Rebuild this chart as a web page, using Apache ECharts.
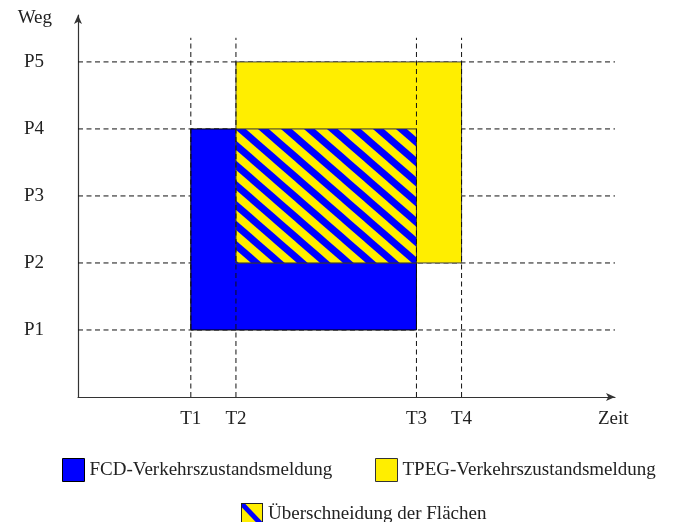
<!DOCTYPE html>
<html>
<head>
<meta charset="utf-8">
<script src="https://cdn.jsdelivr.net/npm/echarts@6/dist/echarts.min.js"></script>
<style>
  html, body { margin: 0; padding: 0; background: #fff; }
  #main { width: 679px; height: 522px; }
</style>
</head>
<body>
<div id="main"></div>
<script>
// Zeitpunkte (x) und Wegpunkte (y)
var tLabels = ['T1', 'T2', 'T3', 'T4'];
var tValues = [2.5, 3.5, 7.5, 8.5];
var pLabels = ['P1', 'P2', 'P3', 'P4', 'P5'];
var pValues = [1, 2, 3, 4, 5];

// Flaechen: [t von, t bis, p von, p bis]
var fcdArea = [2.5, 7.5, 1, 4];
var tpegArea = [3.5, 8.5, 2, 5];
var overlapArea = [3.5, 7.5, 2, 4];

var names = ['FCD-Verkehrszustandsmeldung', 'TPEG-Verkehrszustandsmeldung', 'Überschneidung der Flächen'];

var blue = '#0000ff';
var yellow = '#ffee00';
var font = 'Liberation Serif';
var textColor = '#222';
var xMax = 11.9;
var yMax = 5.7;
var vLineTop = 5.36;

// Schraffur: blaue Diagonalen auf Gelb
function hatchPattern() {
  var w = 23, h = 20;
  var c = document.createElement('canvas');
  c.width = w; c.height = h;
  var ctx = c.getContext('2d');
  ctx.fillStyle = yellow;
  ctx.fillRect(0, 0, w, h);
  ctx.strokeStyle = blue;
  ctx.lineWidth = 7;
  [-w, 0, w].forEach(function (o) {
    ctx.beginPath();
    ctx.moveTo(o - w, -h);
    ctx.lineTo(o + 2 * w, 2 * h);
    ctx.stroke();
  });
  return c;
}

function hatchIcon() {
  var c = document.createElement('canvas');
  c.width = 22; c.height = 23;
  var ctx = c.getContext('2d');
  ctx.fillStyle = yellow;
  ctx.fillRect(0, 0, 22, 23);
  ctx.strokeStyle = blue;
  ctx.lineWidth = 5;
  ctx.beginPath();
  ctx.moveTo(0, 0);
  ctx.lineTo(22, 23);
  ctx.stroke();
  ctx.strokeStyle = '#222';
  ctx.lineWidth = 1;
  ctx.strokeRect(0.5, 0.5, 21, 22);
  return 'image://' + c.toDataURL();
}

function rectItem(fill, stroke) {
  return function (params, api) {
    var a = api.coord([api.value(0), api.value(3)]);
    var b = api.coord([api.value(1), api.value(2)]);
    return {
      type: 'rect',
      shape: { x: a[0], y: a[1], width: b[0] - a[0], height: b[1] - a[1] },
      style: { fill: fill, stroke: stroke, lineWidth: 1 }
    };
  };
}

var dash = { stroke: '#111', lineWidth: 1, lineDash: [5, 3.5] };

var myChart = echarts.init(document.getElementById('main'));

var legendText = { fontFamily: font, fontSize: 19, color: textColor };

var option = {
  animation: false,
  grid: { left: 78, right: 64, top: 15, bottom: 125 },
  legend: [
    {
      data: [{ name: names[0], icon: 'rect', itemStyle: { color: blue, borderColor: '#000', borderWidth: 1 } }],
      left: 57, top: 453, itemWidth: 22, itemHeight: 23, selectedMode: false, textStyle: legendText
    },
    {
      data: [{ name: names[1], icon: 'rect', itemStyle: { color: yellow, borderColor: '#333', borderWidth: 1 } }],
      left: 370, top: 453, itemWidth: 22, itemHeight: 23, selectedMode: false, textStyle: legendText
    },
    {
      data: [{ name: names[2], icon: hatchIcon() }],
      left: 236, top: 498, itemWidth: 22, itemHeight: 23, selectedMode: false, textStyle: legendText
    }
  ],
  xAxis: {
    type: 'value',
    min: 0,
    max: xMax,
    name: 'Zeit',
    nameLocation: 'end',
    nameGap: -17,
    nameTextStyle: { fontFamily: font, fontSize: 19, color: textColor, align: 'left', verticalAlign: 'top', padding: [13, 0, 0, 0] },
    axisLine: { symbol: ['none', 'arrow'], symbolSize: [6, 9], lineStyle: { color: '#333', width: 1.2 } },
    axisTick: { show: false },
    splitLine: { show: false },
    axisLabel: {
      customValues: tValues,
      formatter: function (v) { return tLabels[tValues.indexOf(v)]; },
      margin: 13,
      fontFamily: font, fontSize: 19, color: textColor
    }
  },
  yAxis: {
    type: 'value',
    min: 0,
    max: yMax,
    name: 'Weg',
    nameLocation: 'end',
    nameGap: -3,
    nameTextStyle: { fontFamily: font, fontSize: 19, color: textColor, align: 'right', verticalAlign: 'middle', padding: [0, 26, 0, 0] },
    axisLine: { symbol: ['none', 'arrow'], symbolSize: [6, 9], lineStyle: { color: '#333', width: 1.2 } },
    axisTick: { show: false },
    splitLine: { show: false },
    axisLabel: {
      customValues: pValues,
      formatter: function (v) { return pLabels[pValues.indexOf(v)]; },
      margin: 34,
      fontFamily: font, fontSize: 19, color: textColor
    }
  },
  series: [
    {
      // horizontale Hilfslinien
      type: 'custom', z: 1, silent: true,
      data: pValues.map(function (p) { return [0, p]; }),
      encode: { x: 0, y: 1 },
      renderItem: function (params, api) {
        var a = api.coord([0, api.value(1)]);
        var b = api.coord([xMax, api.value(1)]);
        return { type: 'line', shape: { x1: a[0], y1: a[1], x2: b[0], y2: b[1] }, style: dash };
      }
    },
    {
      name: names[0], type: 'custom', z: 2,
      itemStyle: { color: blue },
      data: [fcdArea],
      encode: { x: [0, 1], y: [2, 3] },
      renderItem: rectItem(blue, '#000')
    },
    {
      name: names[1], type: 'custom', z: 3,
      itemStyle: { color: yellow },
      data: [tpegArea],
      encode: { x: [0, 1], y: [2, 3] },
      renderItem: rectItem(yellow, '#444')
    },
    {
      name: names[2], type: 'custom', z: 4,
      itemStyle: { color: yellow },
      data: [overlapArea],
      encode: { x: [0, 1], y: [2, 3] },
      renderItem: rectItem({ image: hatchPattern(), repeat: 'repeat' }, '#333')
    },
    {
      // vertikale Hilfslinien
      type: 'custom', z: 5, silent: true,
      data: tValues.map(function (t) { return [t, 0]; }),
      encode: { x: 0, y: 1 },
      renderItem: function (params, api) {
        var a = api.coord([api.value(0), 0]);
        var b = api.coord([api.value(0), vLineTop]);
        return { type: 'line', shape: { x1: a[0], y1: a[1], x2: b[0], y2: b[1] }, style: dash };
      }
    }
  ]
};

myChart.setOption(option);
</script>
</body>
</html>
